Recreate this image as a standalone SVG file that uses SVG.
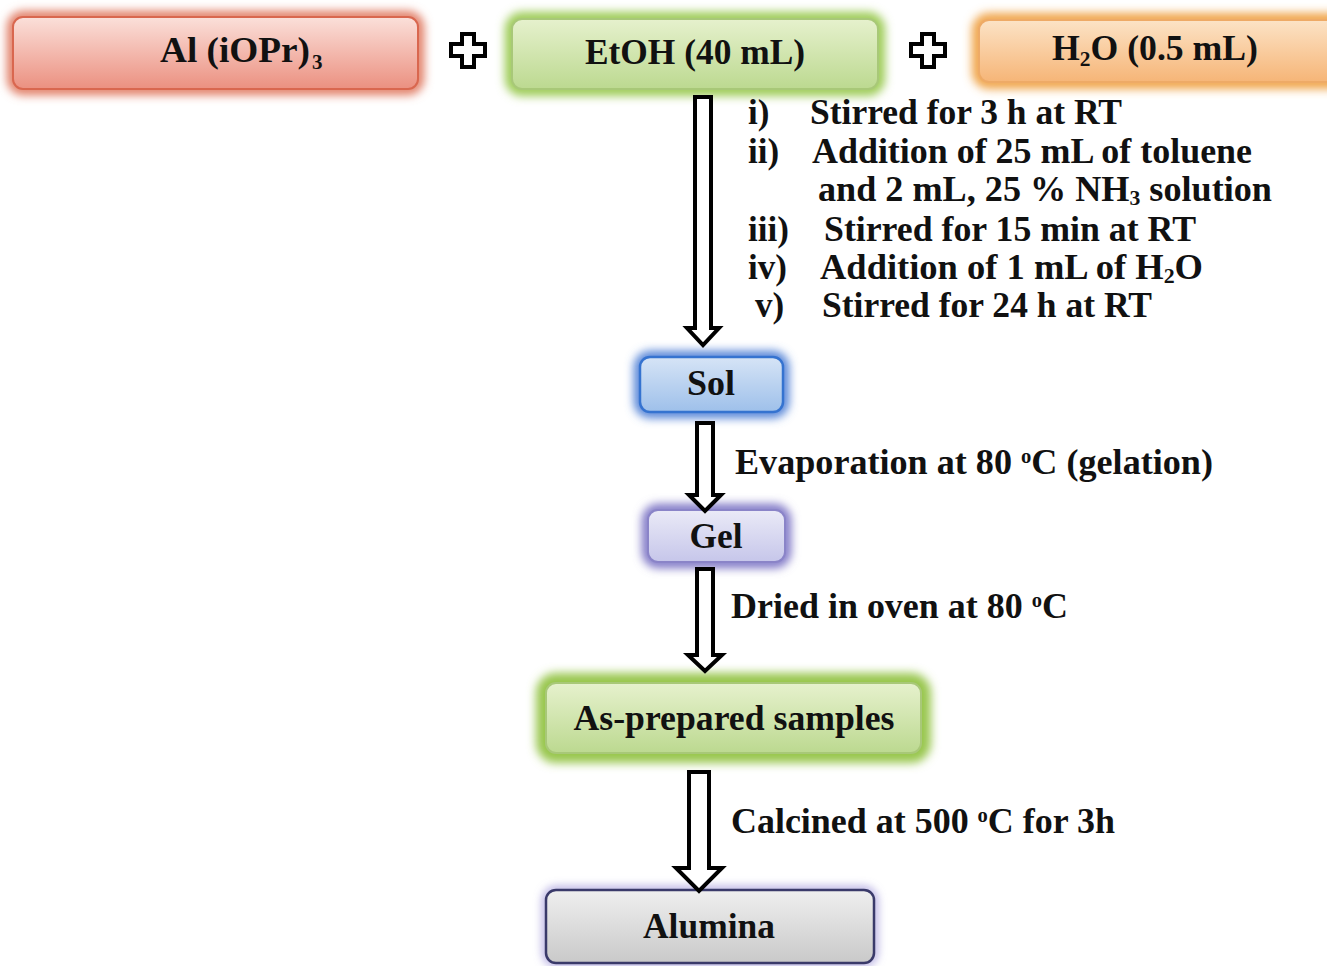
<svg xmlns="http://www.w3.org/2000/svg" width="1327" height="966" viewBox="0 0 1327 966">
<defs>
  <filter id="glow" x="-20%" y="-50%" width="140%" height="200%">
    <feGaussianBlur stdDeviation="5"/>
  </filter>
  <linearGradient id="gRed" x1="0" y1="0" x2="0" y2="1"><stop offset="0" stop-color="#fbe0da"/><stop offset="1" stop-color="#eb9080"/></linearGradient>
  <linearGradient id="gGreen" x1="0" y1="0" x2="0" y2="1"><stop offset="0" stop-color="#e6f1cd"/><stop offset="1" stop-color="#bcd990"/></linearGradient>
  <linearGradient id="gOrange" x1="0" y1="0" x2="0" y2="1"><stop offset="0" stop-color="#fce3c6"/><stop offset="1" stop-color="#f6b577"/></linearGradient>
  <linearGradient id="gBlue" x1="0" y1="0" x2="0" y2="1"><stop offset="0" stop-color="#d6e4f6"/><stop offset="1" stop-color="#9ec0ea"/></linearGradient>
  <linearGradient id="gPurple" x1="0" y1="0" x2="0" y2="1"><stop offset="0" stop-color="#eaeaf7"/><stop offset="1" stop-color="#c6c6ea"/></linearGradient>
  <linearGradient id="gGray" x1="0" y1="0" x2="0" y2="1"><stop offset="0" stop-color="#efefef"/><stop offset="1" stop-color="#c9c9c9"/></linearGradient>
</defs>
<style>
  text { font-family: "Liberation Serif", "Times New Roman", serif; font-weight: bold; fill: #111; font-size: 35px; }
  .lbl { text-anchor: middle; }
  .sub { font-size: 21px; }
  .sup { font-size: 20px; }
  .arrow { fill: #fff; stroke: #000; stroke-width: 4; stroke-linejoin: miter; }
  .plus { fill: #fff; stroke: #000; stroke-width: 4; }
</style>
<rect width="1327" height="966" fill="#fff"/>

<g id="node-al">
  <rect x="13" y="17" width="405" height="72" rx="10" fill="none" stroke="#e07a62" stroke-width="12" filter="url(#glow)"/>
  <rect x="13" y="17" width="405" height="72" rx="10" fill="url(#gRed)" stroke="#d9674f" stroke-width="2"/>
  <text x="160" y="62" textLength="150" lengthAdjust="spacingAndGlyphs">Al (iOPr)</text>
  <text x="312" y="69" class="sub">3</text>
</g>

<g id="plus1"><path class="plus" d="M462,34 h12 v10 h11 v12 h-11 v11 h-12 v-11 h-11 v-12 h11 z"/></g>

<g id="node-etoh">
  <rect x="512" y="19" width="366" height="70" rx="10" fill="none" stroke="#9ccb55" stroke-width="14" filter="url(#glow)"/>
  <rect x="512" y="19" width="366" height="70" rx="10" fill="url(#gGreen)" stroke="#a8c878" stroke-width="2"/>
  <text class="lbl" x="695" y="64" textLength="220" lengthAdjust="spacingAndGlyphs">EtOH (40 mL)</text>
</g>

<g id="plus2"><path class="plus" d="M922,34 h12 v10 h11 v12 h-11 v11 h-12 v-11 h-11 v-12 h11 z"/></g>

<g id="node-h2o">
  <rect x="979" y="20" width="370" height="62" rx="10" fill="none" stroke="#f0a448" stroke-width="14" filter="url(#glow)"/>
  <rect x="979" y="20" width="370" height="62" rx="10" fill="url(#gOrange)" stroke="#eeaa66" stroke-width="2"/>
  <text x="1052" y="60" textLength="206" lengthAdjust="spacingAndGlyphs">H<tspan class="sub" dy="6">2</tspan><tspan dy="-6">O (0.5 mL)</tspan></text>
</g>

<g id="node-sol">
  <rect x="640" y="357" width="143" height="55" rx="10" fill="none" stroke="#4f80d6" stroke-width="12" filter="url(#glow)"/>
  <rect x="640" y="357" width="143" height="55" rx="10" fill="url(#gBlue)" stroke="#3573d0" stroke-width="2.5"/>
  <text class="lbl" x="711" y="395" textLength="48" lengthAdjust="spacingAndGlyphs">Sol</text>
</g>

<g id="node-gel">
  <rect x="648" y="510" width="137" height="52" rx="10" fill="none" stroke="#7a72c4" stroke-width="12" filter="url(#glow)"/>
  <rect x="648" y="510" width="137" height="52" rx="10" fill="url(#gPurple)" stroke="#8a84c8" stroke-width="2"/>
  <text class="lbl" x="716" y="548" textLength="53" lengthAdjust="spacingAndGlyphs">Gel</text>
</g>

<g id="node-asprep">
  <rect x="546" y="683" width="375" height="70" rx="10" fill="none" stroke="#98c64e" stroke-width="20" filter="url(#glow)"/>
  <rect x="546" y="683" width="375" height="70" rx="10" fill="url(#gGreen)" stroke="#a8c878" stroke-width="2"/>
  <text class="lbl" x="734" y="730" textLength="321" lengthAdjust="spacingAndGlyphs">As-prepared samples</text>
</g>

<g id="node-alumina">
  <rect x="546" y="890" width="328" height="73" rx="10" fill="none" stroke="#8a7ed0" stroke-width="5" filter="url(#glow)"/>
  <rect x="546" y="890" width="328" height="73" rx="10" fill="url(#gGray)" stroke="#3a3a6a" stroke-width="2.5"/>
  <text class="lbl" x="709" y="938" textLength="132" lengthAdjust="spacingAndGlyphs">Alumina</text>
</g>

<g id="connectors">
  <path class="arrow" d="M695,97 H711 V328 H719 L703,345 L687,328 H695 Z"/>
  <path class="arrow" d="M697,423 H713 V495 H721 L705,511 L689,495 H697 Z"/>
  <path class="arrow" d="M697,569 H713 V655 H722 L705,671 L688,655 H697 Z"/>
  <path class="arrow" d="M689,772 H709 V868 H722 L699,891 L676,868 H689 Z"/>
</g>

<g id="labels">
  <text x="748" y="124">i)</text>
  <text x="810" y="124" textLength="312" lengthAdjust="spacingAndGlyphs">Stirred for 3 h at RT</text>
  <text x="748" y="163">ii)</text>
  <text x="812" y="163" textLength="440" lengthAdjust="spacingAndGlyphs">Addition of 25 mL of toluene</text>
  <text x="818" y="201" textLength="454" lengthAdjust="spacingAndGlyphs">and 2 mL, 25 % NH<tspan class="sub" dy="4">3</tspan><tspan dy="-4"> solution</tspan></text>
  <text x="748" y="241">iii)</text>
  <text x="824" y="241" textLength="372" lengthAdjust="spacingAndGlyphs">Stirred for 15 min at RT</text>
  <text x="748" y="279">iv)</text>
  <text x="820" y="279" textLength="383" lengthAdjust="spacingAndGlyphs">Addition of 1 mL of H<tspan class="sub" dy="4">2</tspan><tspan dy="-4">O</tspan></text>
  <text x="755" y="317">v)</text>
  <text x="822" y="317" textLength="330" lengthAdjust="spacingAndGlyphs">Stirred for 24 h at RT</text>

  <text x="735" y="474" textLength="478" lengthAdjust="spacingAndGlyphs">Evaporation at 80 <tspan class="sup" dy="-11">o</tspan><tspan dy="11">C (gelation)</tspan></text>
  <text x="731" y="618" textLength="337" lengthAdjust="spacingAndGlyphs">Dried in oven at 80 <tspan class="sup" dy="-11">o</tspan><tspan dy="11">C</tspan></text>
  <text x="731" y="833" textLength="384" lengthAdjust="spacingAndGlyphs">Calcined at 500 <tspan class="sup" dy="-11">o</tspan><tspan dy="11">C for 3h</tspan></text>
</g>
</svg>
